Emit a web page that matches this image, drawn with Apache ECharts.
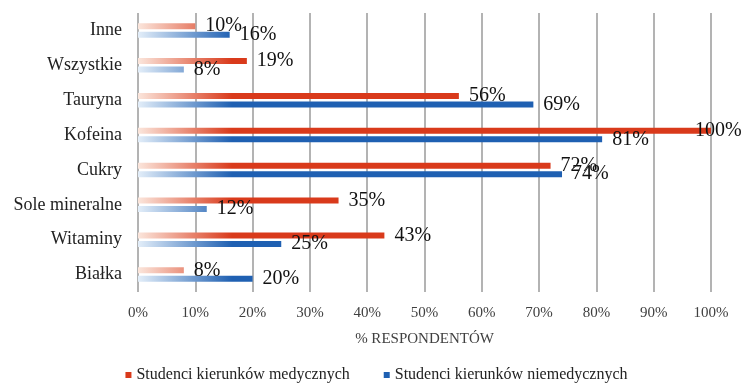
<!DOCTYPE html>
<html>
<head>
<meta charset="utf-8">
<script src="https://cdn.jsdelivr.net/npm/echarts@6/dist/echarts.min.js"></script>
<style>
  html, body { margin: 0; padding: 0; background: #fff; }
  #chart { width: 753px; height: 386px; }
</style>
</head>
<body>
<div id="chart"></div>
<script>
// kategorie od góry do dołu
var categories = ['Inne', 'Wszystkie', 'Tauryna', 'Kofeina', 'Cukry', 'Sole mineralne', 'Witaminy', 'Białka']
var medyczne = [10, 19, 56, 100, 72, 35, 43, 8]
var niemedyczne = [16, 8, 69, 81, 74, 12, 25, 20]
var xTicks = [0, 10, 20, 30, 40, 50, 60, 70, 80, 90, 100]
var seriesNames = ['Studenci kierunków medycznych', 'Studenci kierunków niemedycznych']

var serif = "'Liberation Serif', 'DejaVu Serif', serif"
var red = '#d93a1b'
var blue = '#1f60b2'

var chart = echarts.init(document.getElementById('chart'))

function fade (light, dark) {
  // gradient w pikselach od osi 0%
  return {
    type: 'linear', x: 138, y: 0, x2: 232, y2: 0, global: true,
    colorStops: [{ offset: 0, color: light }, { offset: 1, color: dark }]
  }
}

function items (values) {
  return values.map(function (v) {
    if (v >= xTicks[xTicks.length - 1]) {
      return { value: v, label: { offset: [-26, 0] } }
    }
    return v
  })
}

var labelStyle = {
  show: true,
  position: 'right',
  distance: 10,
  formatter: '{c}%',
  color: '#111',
  fontFamily: serif,
  fontSize: 20
}

var option = {
  animation: false,
  grid: { left: 138, right: 42, top: 13, bottom: 94 },
  legend: {
    data: [
      { name: seriesNames[0], itemStyle: { color: red } },
      { name: seriesNames[1], itemStyle: { color: blue } }
    ],
    bottom: -2,
    left: 'center',
    icon: 'rect',
    itemWidth: 6,
    itemHeight: 6,
    itemGap: 34,
    textStyle: { fontFamily: serif, fontSize: 16, color: '#222' }
  },
  xAxis: {
    type: 'value',
    min: xTicks[0],
    max: xTicks[xTicks.length - 1],
    interval: 10,
    name: '% RESPONDENTÓW',
    nameLocation: 'middle',
    nameGap: 40,
    nameTextStyle: { fontFamily: serif, fontSize: 15, color: '#404040' },
    axisLine: { show: false },
    axisTick: { show: false },
    axisLabel: {
      formatter: '{value}%',
      fontFamily: serif,
      fontSize: 15,
      color: '#404040',
      margin: 14
    },
    splitLine: { show: true, lineStyle: { color: '#9a9a9a', width: 1.5 } }
  },
  yAxis: {
    type: 'category',
    inverse: true,
    data: categories,
    axisLine: { show: false },
    axisTick: { show: false },
    axisLabel: { fontFamily: serif, fontSize: 18, color: '#222', margin: 16 }
  },
  series: [
    {
      name: seriesNames[0],
      type: 'bar',
      barWidth: 6,
      barGap: '40%',
      data: items(medyczne),
      itemStyle: { color: fade('#fbe6dc', red) },
      label: labelStyle
    },
    {
      name: seriesNames[1],
      type: 'bar',
      barWidth: 6,
      data: items(niemedyczne),
      itemStyle: { color: fade('#e3eef9', blue) },
      label: labelStyle
    }
  ]
}

chart.setOption(option)
</script>
</body>
</html>
